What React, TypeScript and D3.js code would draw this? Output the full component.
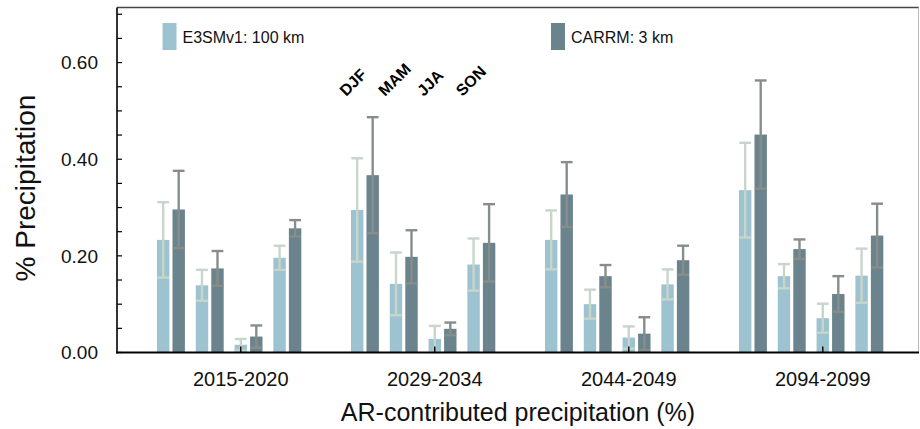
import React from 'react'
import * as d3 from 'd3'

const periods = ['2015-2020', '2029-2034', '2044-2049', '2094-2099']
const seasons = ['DJF', 'MAM', 'JJA', 'SON']
const seriesNames = ['E3SMv1: 100 km', 'CARRM: 3 km']

// rows = periods, columns = seasons
const e3smMean = [
  [0.233, 0.139, 0.016, 0.196],
  [0.295, 0.142, 0.028, 0.182],
  [0.233, 0.1, 0.031, 0.141],
  [0.336, 0.158, 0.071, 0.159],
]
const e3smErr = [
  [0.078, 0.032, 0.012, 0.025],
  [0.107, 0.065, 0.027, 0.054],
  [0.061, 0.03, 0.023, 0.031],
  [0.098, 0.025, 0.03, 0.056],
]
const carrmMean = [
  [0.296, 0.174, 0.033, 0.257],
  [0.367, 0.198, 0.049, 0.227],
  [0.327, 0.158, 0.039, 0.191],
  [0.451, 0.214, 0.121, 0.242],
]
const carrmErr = [
  [0.08, 0.036, 0.023, 0.017],
  [0.12, 0.055, 0.013, 0.08],
  [0.067, 0.023, 0.034, 0.03],
  [0.112, 0.02, 0.037, 0.066],
]
const yTicks = [0, 0.2, 0.4, 0.6]

const W = 920
const H = 429
const left = 117
const right = 919
const top = 7.5
const bottom = 352.5
const font = '"Liberation Sans", Arial, Helvetica, sans-serif'

const barColors = ['#9dc3d1', '#6b838c']
const errColors = ['#c7d5ca', '#878e8a']

export default function App() {
  const x = d3.scaleLinear().domain([-1.19, 19.48]).range([left, right])
  const y = d3.scaleLinear().domain([0, 0.714]).range([bottom, top])
  const bw = x(0.32) - x(0)
  const pairOffset = 0.4
  const capW = bw * 0.95

  const series = [
    { mean: e3smMean, err: e3smErr },
    { mean: carrmMean, err: carrmErr },
  ]

  const minorTicks = d3.range(0, 0.7001, 0.05)

  return (
    <svg
      width={W}
      height={H}
      style={{ position: 'absolute', left: 0, top: 0, background: '#fff' }}
      fontFamily={font}
    >
      {/* bars */}
      {series.map((s, si) =>
        periods.map((p, pi) =>
          seasons.map((se, ki) => {
            const u = pi * 5 + ki + si * pairOffset
            const cx = x(u)
            const m = s.mean[pi][ki]
            return (
              <rect
                key={`b-${si}-${pi}-${ki}`}
                x={cx - bw / 2}
                y={y(m)}
                width={bw}
                height={y(0) - y(m)}
                fill={barColors[si]}
              />
            )
          })
        )
      )}

      {/* error bars */}
      {series.map((s, si) =>
        periods.map((p, pi) =>
          seasons.map((se, ki) => {
            const u = pi * 5 + ki + si * pairOffset
            const cx = x(u)
            const m = s.mean[pi][ki]
            const e = s.err[pi][ki]
            const y1 = y(Math.max(0, m - e))
            const y2 = y(m + e)
            return (
              <g key={`e-${si}-${pi}-${ki}`} stroke={errColors[si]} strokeWidth={2.4}>
                <line x1={cx} x2={cx} y1={y1} y2={y2} />
                <line x1={cx - capW / 2} x2={cx + capW / 2} y1={y2} y2={y2} />
                <line x1={cx - capW / 2} x2={cx + capW / 2} y1={y1} y2={y1} />
              </g>
            )
          })
        )
      )}

      {/* frame */}
      <line x1={left} x2={right} y1={top} y2={top} stroke="#444" strokeWidth={1.6} />
      <line x1={right - 0.5} x2={right - 0.5} y1={top} y2={bottom} stroke="#bbb" strokeWidth={1} />
      <line x1={left} x2={left} y1={top} y2={bottom + 1} stroke="#000" strokeWidth={1.6} />
      <line x1={left - 0.8} x2={right} y1={bottom} y2={bottom} stroke="#000" strokeWidth={2} />

      {/* y ticks */}
      {minorTicks.map((t) => (
        <line key={`yt-${t}`} x1={left} x2={left + 5} y1={y(t)} y2={y(t)} stroke="#000" strokeWidth={1.2} />
      ))}
      {yTicks.map((t) => (
        <text key={`yl-${t}`} x={98} y={y(t)} dy="0.36em" textAnchor="end" fontSize={19} fill="#111">
          {d3.format('.2f')(t)}
        </text>
      ))}

      {/* x ticks and group labels */}
      {periods.map((p, pi) => {
        const cx = x(pi * 5 + 2)
        return (
          <g key={`xl-${p}`}>
            <line x1={cx} x2={cx} y1={bottom} y2={bottom - 6} stroke="#000" strokeWidth={1.4} />
            <text x={cx} y={386} textAnchor="middle" fontSize={20} fill="#111">
              {p}
            </text>
          </g>
        )
      })}

      {/* season labels above the second group */}
      {seasons.map((se, ki) => {
        const sx = x(5 + ki) - 11
        const sy = 97
        return (
          <text
            key={`s-${se}`}
            x={sx}
            y={sy}
            transform={`rotate(-45 ${sx} ${sy})`}
            fontSize={16}
            fontWeight="bold"
            fill="#000"
          >
            {se}
          </text>
        )
      })}

      {/* legend */}
      {seriesNames.map((n, i) => {
        const lx = i === 0 ? 162.5 : 551
        return (
          <g key={`lg-${i}`}>
            <rect x={lx} y={23} width={14} height={27} fill={barColors[i]} />
            <text x={lx + 20} y={43} fontSize={16} fill="#111">
              {n}
            </text>
          </g>
        )
      })}

      {/* axis titles */}
      <text
        transform={`translate(35, 188) rotate(-90)`}
        textAnchor="middle"
        fontSize={28}
        fill="#111"
      >
        % Precipitation
      </text>
      <text x={518} y={421} textAnchor="middle" fontSize={25} fill="#111">
        AR-contributed precipitation (%)
      </text>
    </svg>
  )
}
